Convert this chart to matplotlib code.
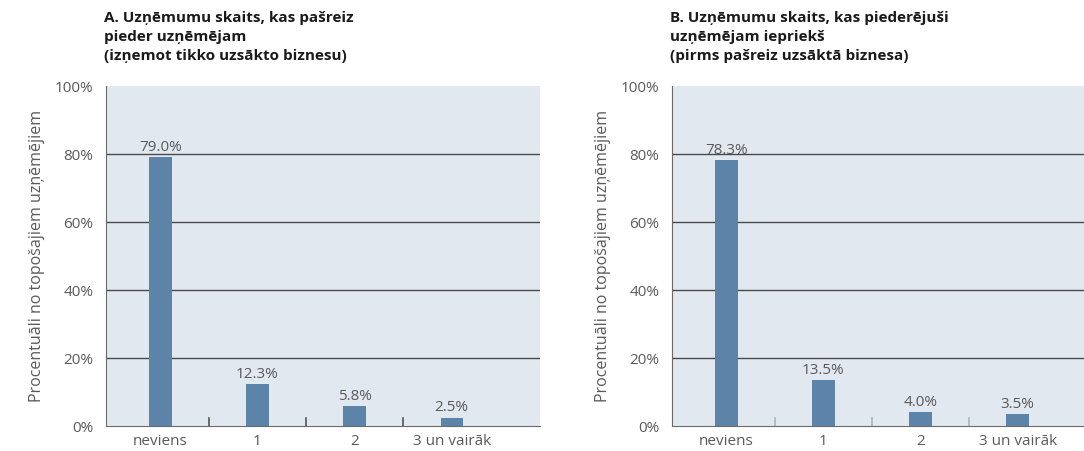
import matplotlib.pyplot as plt
import numpy as np

plt.rcParams['font.family'] = ['Open Sans', 'DejaVu Sans']

kategorijas = ['neviens', '1', '2', '3 un vairāk']
pasreiz = [79.0, 12.3, 5.8, 2.5]
ieprieks = [78.3, 13.5, 4.0, 3.5]
virsraksti = [
    'A. Uzņēmumu skaits, kas pašreiz\npieder uzņēmējam\n(izņemot tikko uzsākto biznesu)',
    'B. Uzņēmumu skaits, kas piederējuši\nuzņēmējam iepriekš\n(pirms pašreiz uzsāktā biznesa)',
]
ylabel = 'Procentuāli no topošajiem uzņēmējiem'

bar_color = '#5b84a8'
bg_color = '#e1e8f0'
text_gray = '#5a5a5a'

fig = plt.figure(figsize=(10.84, 4.51), dpi=100)
ax_left = fig.add_axes([0.0978, 0.0554, 0.4004, 0.7539])
ax_right = fig.add_axes([0.6199, 0.0554, 0.4004, 0.7539])

x = np.arange(len(kategorijas))

for ax, vals, title, tick_col in [(ax_left, pasreiz, virsraksti[0], '#555555'),
                                  (ax_right, ieprieks, virsraksti[1], '#b0b4b8')]:
    ax.set_facecolor(bg_color)
    ax.bar(x, vals, width=0.23, color=bar_color, zorder=3)
    for xi, v in zip(x, vals):
        ax.text(xi, v + 0.6, f'{v:.1f}%', ha='center', va='bottom',
                fontsize=11, color=text_gray, zorder=4)
    ax.set_xlim(-0.56, 3.91)
    ax.set_ylim(0, 100)
    ax.set_yticks([0, 20, 40, 60, 80, 100])
    ax.set_yticklabels(['0%', '20%', '40%', '60%', '80%', '100%'])
    for g in [20, 40, 60, 80]:
        ax.axhline(g, color='#4a4a4a', lw=1.0, zorder=2)
    ax.set_xticks(x)
    ax.set_xticklabels(kategorijas)
    ax.tick_params(axis='x', length=0, labelsize=11, labelcolor=text_gray, pad=6)
    ax.tick_params(axis='y', length=0, labelsize=11, labelcolor=text_gray, pad=9)
    # mazās atzīmes starp kategorijām
    for b in x[:-1] + 0.5:
        ax.plot([b, b], [0, 2.4], color=tick_col, lw=1.2, zorder=2)
    for s in ['top', 'right']:
        ax.spines[s].set_visible(False)
    ax.spines['left'].set_color('#6a6a6a')
    ax.spines['bottom'].set_color('#6a6a6a')
    ax.set_ylabel(ylabel, fontsize=11.5, color=text_gray, labelpad=7)
    ax.set_title(title, loc='left', fontsize=11, fontweight='bold',
                 color='#1a1a1a', pad=19, x=-0.005, linespacing=1.45)

fig.savefig('out.png', dpi=100)
